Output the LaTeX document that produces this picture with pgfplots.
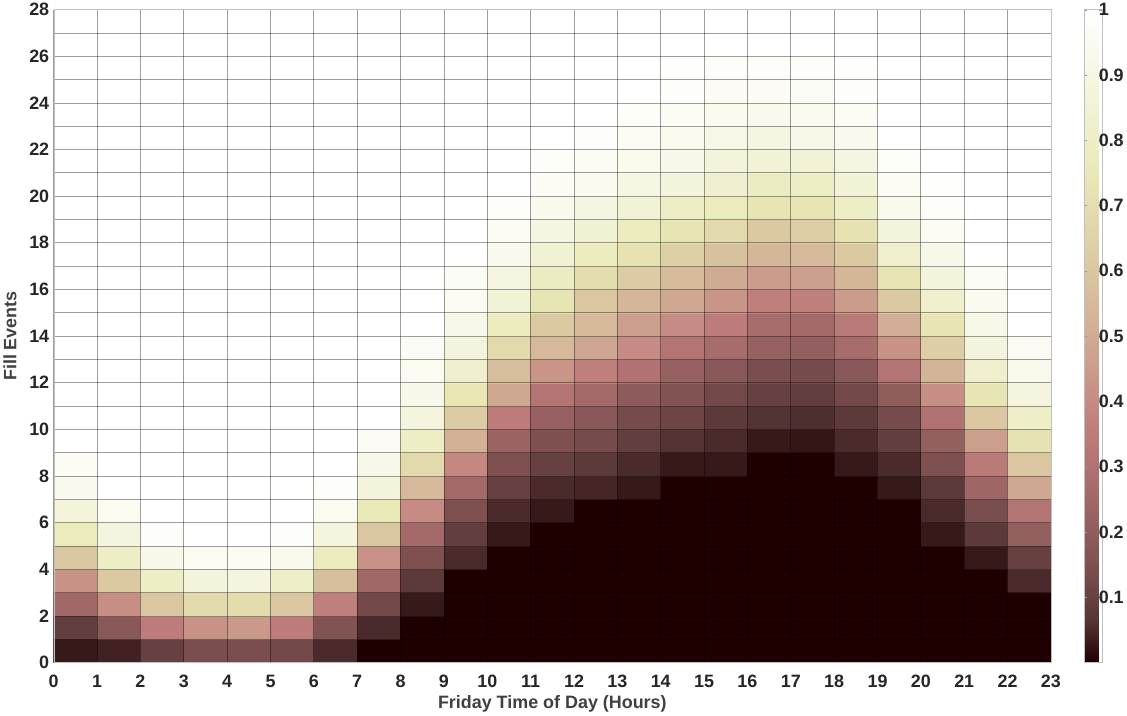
\documentclass[border=0pt]{standalone}
\usepackage{fontspec}
\setmainfont{Liberation Sans}
\usepackage{pgfplots}
\pgfplotsset{compat=1.18}
\begin{document}
\begin{tikzpicture}
\begin{axis}[
  scale only axis,
  width=1002pt, height=656pt,
  xmin=0, xmax=23, ymin=0, ymax=28,
  xtick={0,1,...,23},
  ytick={0,2,...,28},
  minor ytick={1,3,...,27},
  grid=both,
  major grid style={black, opacity=0.38, line width=0.8pt},
  minor grid style={black, opacity=0.38, line width=0.8pt},
  major tick length=0pt, minor tick length=0pt,
  axis on top,
  axis line style={black!25},
  /pgf/number format/assume math mode=true,
  ticklabel style={font=\bfseries\fontsize{18}{20}\selectfont, text=black!85},
  xticklabel style={yshift=-9pt},
  yticklabel style={xshift=-1pt},
  xlabel={Friday Time of Day (Hours)},
  ylabel={Fill Events},
  label style={font=\bfseries\fontsize{18}{20}\selectfont, text=black!75},
  xlabel style={yshift=-1pt},
  ylabel style={yshift=6pt},
  colormap={pinkmat}{
    rgb=(0.118,0,0) rgb=(0.332,0.204,0.204) rgb=(0.455,0.289,0.289)
    rgb=(0.550,0.354,0.354) rgb=(0.632,0.408,0.408) rgb=(0.704,0.456,0.456)
    rgb=(0.764,0.509,0.500) rgb=(0.791,0.596,0.540) rgb=(0.816,0.672,0.577)
    rgb=(0.842,0.740,0.612) rgb=(0.866,0.802,0.645) rgb=(0.890,0.860,0.677)
    rgb=(0.913,0.913,0.711) rgb=(0.935,0.935,0.793) rgb=(0.957,0.957,0.867)
    rgb=(0.979,0.979,0.936) rgb=(1,1,1)},
  point meta min=0, point meta max=1,
  colorbar,
  colorbar style={
    at={(parent axis.north east)}, anchor=north west, xshift=25pt,
    width=18pt,
    ytick={0.1,0.2,0.3,0.4,0.5,0.6,0.7,0.8,0.9,1},
    yticklabels={0.1,0.2,0.3,0.4,0.5,0.6,0.7,0.8,0.9,1},
    major tick length=3pt, tick align=inside,
    major tick style={black!40},
    axis line style={black!25},
    yticklabel style={font=\bfseries\fontsize{18}{20}\selectfont, text=black!85, xshift=-7pt},
  },
]
\addplot[matrix plot*, mesh/cols=23, point meta=explicit] table[row sep=\\, meta=c] {
x y c\\
0.5 0.5 0.03\\ 1.5 0.5 0.04\\ 2.5 0.5 0.10\\ 3.5 0.5 0.14\\ 4.5 0.5 0.14\\ 5.5 0.5 0.12\\ 6.5 0.5 0.05\\ 7.5 0.5 0\\ 8.5 0.5 0\\ 9.5 0.5 0\\ 10.5 0.5 0\\ 11.5 0.5 0\\ 12.5 0.5 0\\ 13.5 0.5 0\\ 14.5 0.5 0\\ 15.5 0.5 0\\ 16.5 0.5 0\\ 17.5 0.5 0\\ 18.5 0.5 0\\ 19.5 0.5 0\\ 20.5 0.5 0\\ 21.5 0.5 0\\ 22.5 0.5 0\\
0.5 1.5 0.09\\ 1.5 1.5 0.18\\ 2.5 1.5 0.35\\ 3.5 1.5 0.42\\ 4.5 1.5 0.44\\ 5.5 1.5 0.35\\ 6.5 1.5 0.16\\ 7.5 1.5 0.05\\ 8.5 1.5 0\\ 9.5 1.5 0\\ 10.5 1.5 0\\ 11.5 1.5 0\\ 12.5 1.5 0\\ 13.5 1.5 0\\ 14.5 1.5 0\\ 15.5 1.5 0\\ 16.5 1.5 0\\ 17.5 1.5 0\\ 18.5 1.5 0\\ 19.5 1.5 0\\ 20.5 1.5 0\\ 21.5 1.5 0\\ 22.5 1.5 0\\
0.5 2.5 0.25\\ 1.5 2.5 0.41\\ 2.5 2.5 0.60\\ 3.5 2.5 0.68\\ 4.5 2.5 0.69\\ 5.5 2.5 0.60\\ 6.5 2.5 0.36\\ 7.5 2.5 0.12\\ 8.5 2.5 0.03\\ 9.5 2.5 0\\ 10.5 2.5 0\\ 11.5 2.5 0\\ 12.5 2.5 0\\ 13.5 2.5 0\\ 14.5 2.5 0\\ 15.5 2.5 0\\ 16.5 2.5 0\\ 17.5 2.5 0\\ 18.5 2.5 0\\ 19.5 2.5 0\\ 20.5 2.5 0\\ 21.5 2.5 0\\ 22.5 2.5 0\\
0.5 3.5 0.42\\ 1.5 3.5 0.61\\ 2.5 3.5 0.80\\ 3.5 3.5 0.87\\ 4.5 3.5 0.88\\ 5.5 3.5 0.81\\ 6.5 3.5 0.57\\ 7.5 3.5 0.25\\ 8.5 3.5 0.08\\ 9.5 3.5 0\\ 10.5 3.5 0\\ 11.5 3.5 0\\ 12.5 3.5 0\\ 13.5 3.5 0\\ 14.5 3.5 0\\ 15.5 3.5 0\\ 16.5 3.5 0\\ 17.5 3.5 0\\ 18.5 3.5 0\\ 19.5 3.5 0\\ 20.5 3.5 0\\ 21.5 3.5 0\\ 22.5 3.5 0.05\\
0.5 4.5 0.60\\ 1.5 4.5 0.80\\ 2.5 4.5 0.92\\ 3.5 4.5 0.95\\ 4.5 4.5 0.95\\ 5.5 4.5 0.93\\ 6.5 4.5 0.77\\ 7.5 4.5 0.42\\ 8.5 4.5 0.15\\ 9.5 4.5 0.05\\ 10.5 4.5 0\\ 11.5 4.5 0\\ 12.5 4.5 0\\ 13.5 4.5 0\\ 14.5 4.5 0\\ 15.5 4.5 0\\ 16.5 4.5 0\\ 17.5 4.5 0\\ 18.5 4.5 0\\ 19.5 4.5 0\\ 20.5 4.5 0\\ 21.5 4.5 0.03\\ 22.5 4.5 0.10\\
0.5 5.5 0.77\\ 1.5 5.5 0.88\\ 2.5 5.5 0.98\\ 3.5 5.5 1\\ 4.5 5.5 1\\ 5.5 5.5 0.98\\ 6.5 5.5 0.88\\ 7.5 5.5 0.60\\ 8.5 5.5 0.26\\ 9.5 5.5 0.09\\ 10.5 5.5 0.03\\ 11.5 5.5 0\\ 12.5 5.5 0\\ 13.5 5.5 0\\ 14.5 5.5 0\\ 15.5 5.5 0\\ 16.5 5.5 0\\ 17.5 5.5 0\\ 18.5 5.5 0\\ 19.5 5.5 0\\ 20.5 5.5 0.03\\ 21.5 5.5 0.08\\ 22.5 5.5 0.21\\
0.5 6.5 0.86\\ 1.5 6.5 0.95\\ 2.5 6.5 1\\ 3.5 6.5 1\\ 4.5 6.5 1\\ 5.5 6.5 1\\ 6.5 6.5 0.95\\ 7.5 6.5 0.76\\ 8.5 6.5 0.40\\ 9.5 6.5 0.15\\ 10.5 6.5 0.05\\ 11.5 6.5 0.03\\ 12.5 6.5 0\\ 13.5 6.5 0\\ 14.5 6.5 0\\ 15.5 6.5 0\\ 16.5 6.5 0\\ 17.5 6.5 0\\ 18.5 6.5 0\\ 19.5 6.5 0\\ 20.5 6.5 0.05\\ 21.5 6.5 0.14\\ 22.5 6.5 0.31\\
0.5 7.5 0.93\\ 1.5 7.5 1\\ 2.5 7.5 1\\ 3.5 7.5 1\\ 4.5 7.5 1\\ 5.5 7.5 1\\ 6.5 7.5 0.98\\ 7.5 7.5 0.87\\ 8.5 7.5 0.55\\ 9.5 7.5 0.26\\ 10.5 7.5 0.10\\ 11.5 7.5 0.05\\ 12.5 7.5 0.045\\ 13.5 7.5 0.03\\ 14.5 7.5 0\\ 15.5 7.5 0\\ 16.5 7.5 0\\ 17.5 7.5 0\\ 18.5 7.5 0\\ 19.5 7.5 0.03\\ 20.5 7.5 0.08\\ 21.5 7.5 0.24\\ 22.5 7.5 0.49\\
0.5 8.5 0.96\\ 1.5 8.5 1\\ 2.5 8.5 1\\ 3.5 8.5 1\\ 4.5 8.5 1\\ 5.5 8.5 1\\ 6.5 8.5 1\\ 7.5 8.5 0.92\\ 8.5 8.5 0.68\\ 9.5 8.5 0.39\\ 10.5 8.5 0.15\\ 11.5 8.5 0.10\\ 12.5 8.5 0.08\\ 13.5 8.5 0.05\\ 14.5 8.5 0.03\\ 15.5 8.5 0.03\\ 16.5 8.5 0\\ 17.5 8.5 0\\ 18.5 8.5 0.03\\ 19.5 8.5 0.05\\ 20.5 8.5 0.15\\ 21.5 8.5 0.34\\ 22.5 8.5 0.60\\
0.5 9.5 1\\ 1.5 9.5 1\\ 2.5 9.5 1\\ 3.5 9.5 1\\ 4.5 9.5 1\\ 5.5 9.5 1\\ 6.5 9.5 1\\ 7.5 9.5 0.96\\ 8.5 9.5 0.80\\ 9.5 9.5 0.52\\ 10.5 9.5 0.23\\ 11.5 9.5 0.15\\ 12.5 9.5 0.13\\ 13.5 9.5 0.09\\ 14.5 9.5 0.06\\ 15.5 9.5 0.05\\ 16.5 9.5 0.03\\ 17.5 9.5 0.025\\ 18.5 9.5 0.05\\ 19.5 9.5 0.09\\ 20.5 9.5 0.21\\ 21.5 9.5 0.46\\ 22.5 9.5 0.72\\
0.5 10.5 1\\ 1.5 10.5 1\\ 2.5 10.5 1\\ 3.5 10.5 1\\ 4.5 10.5 1\\ 5.5 10.5 1\\ 6.5 10.5 1\\ 7.5 10.5 1\\ 8.5 10.5 0.88\\ 9.5 10.5 0.62\\ 10.5 10.5 0.35\\ 11.5 10.5 0.22\\ 12.5 10.5 0.18\\ 13.5 10.5 0.13\\ 14.5 10.5 0.11\\ 15.5 10.5 0.08\\ 16.5 10.5 0.06\\ 17.5 10.5 0.055\\ 18.5 10.5 0.08\\ 19.5 10.5 0.13\\ 20.5 10.5 0.30\\ 21.5 10.5 0.60\\ 22.5 10.5 0.81\\
0.5 11.5 1\\ 1.5 11.5 1\\ 2.5 11.5 1\\ 3.5 11.5 1\\ 4.5 11.5 1\\ 5.5 11.5 1\\ 6.5 11.5 1\\ 7.5 11.5 1\\ 8.5 11.5 0.92\\ 9.5 11.5 0.74\\ 10.5 11.5 0.49\\ 11.5 11.5 0.31\\ 12.5 11.5 0.26\\ 13.5 11.5 0.19\\ 14.5 11.5 0.16\\ 15.5 11.5 0.12\\ 16.5 11.5 0.10\\ 17.5 11.5 0.09\\ 18.5 11.5 0.12\\ 19.5 11.5 0.20\\ 20.5 11.5 0.41\\ 21.5 11.5 0.73\\ 22.5 11.5 0.88\\
0.5 12.5 1\\ 1.5 12.5 1\\ 2.5 12.5 1\\ 3.5 12.5 1\\ 4.5 12.5 1\\ 5.5 12.5 1\\ 6.5 12.5 1\\ 7.5 12.5 1\\ 8.5 12.5 0.95\\ 9.5 12.5 0.82\\ 10.5 12.5 0.57\\ 11.5 12.5 0.43\\ 12.5 12.5 0.36\\ 13.5 12.5 0.30\\ 14.5 12.5 0.22\\ 15.5 12.5 0.18\\ 16.5 12.5 0.14\\ 17.5 12.5 0.13\\ 18.5 12.5 0.18\\ 19.5 12.5 0.31\\ 20.5 12.5 0.53\\ 21.5 12.5 0.82\\ 22.5 12.5 0.93\\
0.5 13.5 1\\ 1.5 13.5 1\\ 2.5 13.5 1\\ 3.5 13.5 1\\ 4.5 13.5 1\\ 5.5 13.5 1\\ 6.5 13.5 1\\ 7.5 13.5 1\\ 8.5 13.5 0.97\\ 9.5 13.5 0.87\\ 10.5 13.5 0.68\\ 11.5 13.5 0.55\\ 12.5 13.5 0.48\\ 13.5 13.5 0.40\\ 14.5 13.5 0.31\\ 15.5 13.5 0.27\\ 16.5 13.5 0.22\\ 17.5 13.5 0.21\\ 18.5 13.5 0.27\\ 19.5 13.5 0.42\\ 20.5 13.5 0.63\\ 21.5 13.5 0.87\\ 22.5 13.5 0.96\\
0.5 14.5 1\\ 1.5 14.5 1\\ 2.5 14.5 1\\ 3.5 14.5 1\\ 4.5 14.5 1\\ 5.5 14.5 1\\ 6.5 14.5 1\\ 7.5 14.5 1\\ 8.5 14.5 1\\ 9.5 14.5 0.92\\ 10.5 14.5 0.78\\ 11.5 14.5 0.61\\ 12.5 14.5 0.55\\ 13.5 14.5 0.46\\ 14.5 14.5 0.40\\ 15.5 14.5 0.35\\ 16.5 14.5 0.27\\ 17.5 14.5 0.26\\ 18.5 14.5 0.34\\ 19.5 14.5 0.51\\ 20.5 14.5 0.73\\ 21.5 14.5 0.91\\ 22.5 14.5 1\\
0.5 15.5 1\\ 1.5 15.5 1\\ 2.5 15.5 1\\ 3.5 15.5 1\\ 4.5 15.5 1\\ 5.5 15.5 1\\ 6.5 15.5 1\\ 7.5 15.5 1\\ 8.5 15.5 1\\ 9.5 15.5 0.95\\ 10.5 15.5 0.85\\ 11.5 15.5 0.73\\ 12.5 15.5 0.60\\ 13.5 15.5 0.54\\ 14.5 15.5 0.49\\ 15.5 15.5 0.43\\ 16.5 15.5 0.36\\ 17.5 15.5 0.36\\ 18.5 15.5 0.45\\ 19.5 15.5 0.61\\ 20.5 15.5 0.82\\ 21.5 15.5 0.94\\ 22.5 15.5 1\\
0.5 16.5 1\\ 1.5 16.5 1\\ 2.5 16.5 1\\ 3.5 16.5 1\\ 4.5 16.5 1\\ 5.5 16.5 1\\ 6.5 16.5 1\\ 7.5 16.5 1\\ 8.5 16.5 1\\ 9.5 16.5 0.97\\ 10.5 16.5 0.89\\ 11.5 16.5 0.79\\ 12.5 16.5 0.70\\ 13.5 16.5 0.62\\ 14.5 16.5 0.56\\ 15.5 16.5 0.50\\ 16.5 16.5 0.45\\ 17.5 16.5 0.46\\ 18.5 16.5 0.54\\ 19.5 16.5 0.73\\ 20.5 16.5 0.87\\ 21.5 16.5 0.97\\ 22.5 16.5 1\\
0.5 17.5 1\\ 1.5 17.5 1\\ 2.5 17.5 1\\ 3.5 17.5 1\\ 4.5 17.5 1\\ 5.5 17.5 1\\ 6.5 17.5 1\\ 7.5 17.5 1\\ 8.5 17.5 1\\ 9.5 17.5 1\\ 10.5 17.5 0.93\\ 11.5 17.5 0.84\\ 12.5 17.5 0.78\\ 13.5 17.5 0.72\\ 14.5 17.5 0.64\\ 15.5 17.5 0.58\\ 16.5 17.5 0.54\\ 17.5 17.5 0.55\\ 18.5 17.5 0.61\\ 19.5 17.5 0.82\\ 20.5 17.5 0.92\\ 21.5 17.5 1\\ 22.5 17.5 1\\
0.5 18.5 1\\ 1.5 18.5 1\\ 2.5 18.5 1\\ 3.5 18.5 1\\ 4.5 18.5 1\\ 5.5 18.5 1\\ 6.5 18.5 1\\ 7.5 18.5 1\\ 8.5 18.5 1\\ 9.5 18.5 1\\ 10.5 18.5 0.96\\ 11.5 18.5 0.89\\ 12.5 18.5 0.84\\ 13.5 18.5 0.78\\ 14.5 18.5 0.73\\ 15.5 18.5 0.68\\ 16.5 18.5 0.61\\ 17.5 18.5 0.63\\ 18.5 18.5 0.72\\ 19.5 18.5 0.87\\ 20.5 18.5 0.96\\ 21.5 18.5 1\\ 22.5 18.5 1\\
0.5 19.5 1\\ 1.5 19.5 1\\ 2.5 19.5 1\\ 3.5 19.5 1\\ 4.5 19.5 1\\ 5.5 19.5 1\\ 6.5 19.5 1\\ 7.5 19.5 1\\ 8.5 19.5 1\\ 9.5 19.5 1\\ 10.5 19.5 0.98\\ 11.5 19.5 0.93\\ 12.5 19.5 0.89\\ 13.5 19.5 0.85\\ 14.5 19.5 0.80\\ 15.5 19.5 0.77\\ 16.5 19.5 0.73\\ 17.5 19.5 0.73\\ 18.5 19.5 0.80\\ 19.5 19.5 0.93\\ 20.5 19.5 0.98\\ 21.5 19.5 1\\ 22.5 19.5 1\\
0.5 20.5 1\\ 1.5 20.5 1\\ 2.5 20.5 1\\ 3.5 20.5 1\\ 4.5 20.5 1\\ 5.5 20.5 1\\ 6.5 20.5 1\\ 7.5 20.5 1\\ 8.5 20.5 1\\ 9.5 20.5 1\\ 10.5 20.5 1\\ 11.5 20.5 0.96\\ 12.5 20.5 0.94\\ 13.5 20.5 0.90\\ 14.5 20.5 0.87\\ 15.5 20.5 0.83\\ 16.5 20.5 0.79\\ 17.5 20.5 0.80\\ 18.5 20.5 0.85\\ 19.5 20.5 0.96\\ 20.5 20.5 0.99\\ 21.5 20.5 1\\ 22.5 20.5 1\\
0.5 21.5 1\\ 1.5 21.5 1\\ 2.5 21.5 1\\ 3.5 21.5 1\\ 4.5 21.5 1\\ 5.5 21.5 1\\ 6.5 21.5 1\\ 7.5 21.5 1\\ 8.5 21.5 1\\ 9.5 21.5 1\\ 10.5 21.5 1\\ 11.5 21.5 0.98\\ 12.5 21.5 0.96\\ 13.5 21.5 0.94\\ 14.5 21.5 0.92\\ 15.5 21.5 0.87\\ 16.5 21.5 0.85\\ 17.5 21.5 0.85\\ 18.5 21.5 0.89\\ 19.5 21.5 0.98\\ 20.5 21.5 1\\ 21.5 21.5 1\\ 22.5 21.5 1\\
0.5 22.5 1\\ 1.5 22.5 1\\ 2.5 22.5 1\\ 3.5 22.5 1\\ 4.5 22.5 1\\ 5.5 22.5 1\\ 6.5 22.5 1\\ 7.5 22.5 1\\ 8.5 22.5 1\\ 9.5 22.5 1\\ 10.5 22.5 1\\ 11.5 22.5 1\\ 12.5 22.5 0.98\\ 13.5 22.5 0.96\\ 14.5 22.5 0.94\\ 15.5 22.5 0.91\\ 16.5 22.5 0.89\\ 17.5 22.5 0.91\\ 18.5 22.5 0.93\\ 19.5 22.5 1\\ 20.5 22.5 1\\ 21.5 22.5 1\\ 22.5 22.5 1\\
0.5 23.5 1\\ 1.5 23.5 1\\ 2.5 23.5 1\\ 3.5 23.5 1\\ 4.5 23.5 1\\ 5.5 23.5 1\\ 6.5 23.5 1\\ 7.5 23.5 1\\ 8.5 23.5 1\\ 9.5 23.5 1\\ 10.5 23.5 1\\ 11.5 23.5 1\\ 12.5 23.5 1\\ 13.5 23.5 0.98\\ 14.5 23.5 0.96\\ 15.5 23.5 0.94\\ 16.5 23.5 0.93\\ 17.5 23.5 0.94\\ 18.5 23.5 0.96\\ 19.5 23.5 1\\ 20.5 23.5 1\\ 21.5 23.5 1\\ 22.5 23.5 1\\
0.5 24.5 1\\ 1.5 24.5 1\\ 2.5 24.5 1\\ 3.5 24.5 1\\ 4.5 24.5 1\\ 5.5 24.5 1\\ 6.5 24.5 1\\ 7.5 24.5 1\\ 8.5 24.5 1\\ 9.5 24.5 1\\ 10.5 24.5 1\\ 11.5 24.5 1\\ 12.5 24.5 1\\ 13.5 24.5 1\\ 14.5 24.5 0.98\\ 15.5 24.5 0.96\\ 16.5 24.5 0.96\\ 17.5 24.5 0.97\\ 18.5 24.5 0.98\\ 19.5 24.5 1\\ 20.5 24.5 1\\ 21.5 24.5 1\\ 22.5 24.5 1\\
0.5 25.5 1\\ 1.5 25.5 1\\ 2.5 25.5 1\\ 3.5 25.5 1\\ 4.5 25.5 1\\ 5.5 25.5 1\\ 6.5 25.5 1\\ 7.5 25.5 1\\ 8.5 25.5 1\\ 9.5 25.5 1\\ 10.5 25.5 1\\ 11.5 25.5 1\\ 12.5 25.5 1\\ 13.5 25.5 1\\ 14.5 25.5 0.99\\ 15.5 25.5 0.98\\ 16.5 25.5 0.98\\ 17.5 25.5 0.98\\ 18.5 25.5 0.99\\ 19.5 25.5 1\\ 20.5 25.5 1\\ 21.5 25.5 1\\ 22.5 25.5 1\\
0.5 26.5 1\\ 1.5 26.5 1\\ 2.5 26.5 1\\ 3.5 26.5 1\\ 4.5 26.5 1\\ 5.5 26.5 1\\ 6.5 26.5 1\\ 7.5 26.5 1\\ 8.5 26.5 1\\ 9.5 26.5 1\\ 10.5 26.5 1\\ 11.5 26.5 1\\ 12.5 26.5 1\\ 13.5 26.5 1\\ 14.5 26.5 1\\ 15.5 26.5 1\\ 16.5 26.5 1\\ 17.5 26.5 1\\ 18.5 26.5 1\\ 19.5 26.5 1\\ 20.5 26.5 1\\ 21.5 26.5 1\\ 22.5 26.5 1\\
0.5 27.5 1\\ 1.5 27.5 1\\ 2.5 27.5 1\\ 3.5 27.5 1\\ 4.5 27.5 1\\ 5.5 27.5 1\\ 6.5 27.5 1\\ 7.5 27.5 1\\ 8.5 27.5 1\\ 9.5 27.5 1\\ 10.5 27.5 1\\ 11.5 27.5 1\\ 12.5 27.5 1\\ 13.5 27.5 1\\ 14.5 27.5 1\\ 15.5 27.5 1\\ 16.5 27.5 1\\ 17.5 27.5 1\\ 18.5 27.5 1\\ 19.5 27.5 1\\ 20.5 27.5 1\\ 21.5 27.5 1\\ 22.5 27.5 1\\
};
\end{axis}
\end{tikzpicture}
\end{document}
